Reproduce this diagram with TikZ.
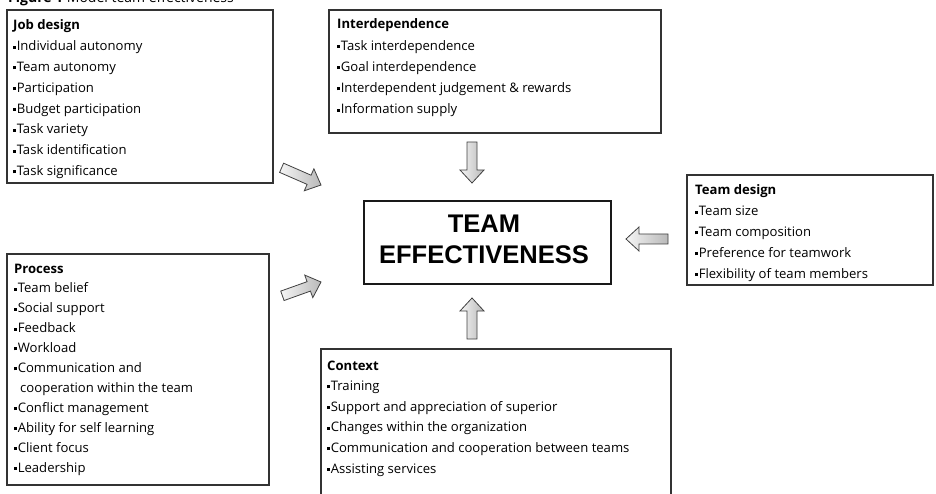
\documentclass[tikz,border=0pt]{standalone}
\usepackage{fontspec}
\setmainfont{Open Sans}
\newfontfamily\headfont{Liberation Sans}
\newcommand\bul{\rule[2.2pt]{3pt}{3pt}\hspace{0.6pt}}
\begin{document}
\begin{tikzpicture}[x=1pt,y=-1pt,
  panel/.style={draw=black!80, line width=1.2pt, inner sep=0pt, outer sep=0pt, anchor=north west},
  hdr/.style={font=\fontsize{13.1}{15}\selectfont\bfseries, anchor=base west, inner sep=0pt},
  item/.style={font=\fontsize{13.1}{15}\selectfont, anchor=base west, inner sep=0pt},
  arrowline/.style={draw=black!75, line width=0.8pt, line join=miter, left color=gray!8, right color=gray!55},
  pics/blockarrow/.style={code={
    \path[arrowline] (0,0) -- (-13,12) -- (-13,5) -- (-#1,5) -- (-#1,-5) -- (-13,-5) -- (-13,-12) -- cycle;
  }}]
\useasboundingbox (0,0) rectangle (936,494);
\clip (0,0) rectangle (936,494);

% title (cut off at top)
\node[anchor=base west, inner sep=0pt, font=\fontsize{14}{16}\selectfont] (title) at (8,2.5) {\textbf{Figure 1} Model team effectiveness};

% Job design
\node[panel, minimum width=266pt, minimum height=173pt] (job) at (7,10) {};
\node[hdr] (job-h) at (13,30) {Job design};
\foreach \t [count=\i] in {Individual autonomy, Team autonomy, Participation, Budget participation, Task variety, Task identification, Task significance}
  \node[item] (job-\i) at (13,{30+20.8*\i}) {\bul\t};

% Interdependence
\node[panel, minimum width=332pt, minimum height=123pt] (inter) at (329,10) {};
\node[hdr] (inter-h) at (337,29) {Interdependence};
\foreach \t [count=\i] in {Task interdependence, Goal interdependence, Interdependent judgement \& rewards, Information supply}
  \node[item] (inter-\i) at (337,{29+21.2*\i}) {\bul\t};

% Team design
\node[panel, minimum width=246pt, minimum height=110pt] (tdes) at (687,175) {};
\node[hdr] (tdes-h) at (695,195) {Team design};
\foreach \t [count=\i] in {Team size, Team composition, Preference for teamwork, Flexibility of team members}
  \node[item] (tdes-\i) at (695,{195+20.8*\i}) {\bul\t};

% Process
\node[panel, minimum width=262pt, minimum height=231pt] (proc) at (7,254) {};
\node[hdr] (proc-h) at (14,273) {Process};
\foreach \t [count=\i] in {\bul Team belief, \bul Social support, \bul Feedback, \bul Workload, \bul Communication and, \hspace{6pt}cooperation within the team, \bul Conflict management, \bul Ability for self learning, \bul Client focus, \bul Leadership}
  \node[item] (proc-\i) at (14,{273+19.9*\i}) {\t};

% Context (bottom cut off)
\node[panel, minimum width=350pt, minimum height=180pt] (ctx) at (321,349) {};
\node[hdr] (ctx-h) at (327,370) {Context};
\foreach \t [count=\i] in {Training, Support and appreciation of superior, Changes within the organization, Communication and cooperation between teams, Assisting services}
  \node[item] (ctx-\i) at (327,{370+20.6*\i}) {\bul\t};

% Team effectiveness
\node[draw=black!90, line width=2.6pt, inner sep=0pt, outer sep=0pt, minimum width=247pt, minimum height=83pt, anchor=north west] (te) at (364,201) {};
\node[inner sep=0pt, anchor=base, font=\headfont\bfseries\fontsize{25.5}{30}\selectfont] (te-1) at (484,233) {TEAM};
\node[inner sep=0pt, anchor=base, font=\headfont\bfseries\fontsize{25.5}{30}\selectfont] (te-2) at (484,263) {EFFECTIVENESS};

% block arrows
\coordinate (tipdown) at (472,183);
\coordinate (tipup) at (472,298);
\coordinate (tipleft) at (626,239);
\coordinate (tipjob) at (321,185);
\coordinate (tipproc) at (321,282);
\pic[rotate=-90] at (tipdown) {blockarrow=41};
\pic[rotate=90] at (tipup) {blockarrow=41};
\pic[rotate=180] at (tipleft) {blockarrow=42};
\pic[rotate=-23.6] at (tipjob) {blockarrow=43};
\pic[rotate=19.7] at (tipproc) {blockarrow=41};
\end{tikzpicture}
\end{document}
